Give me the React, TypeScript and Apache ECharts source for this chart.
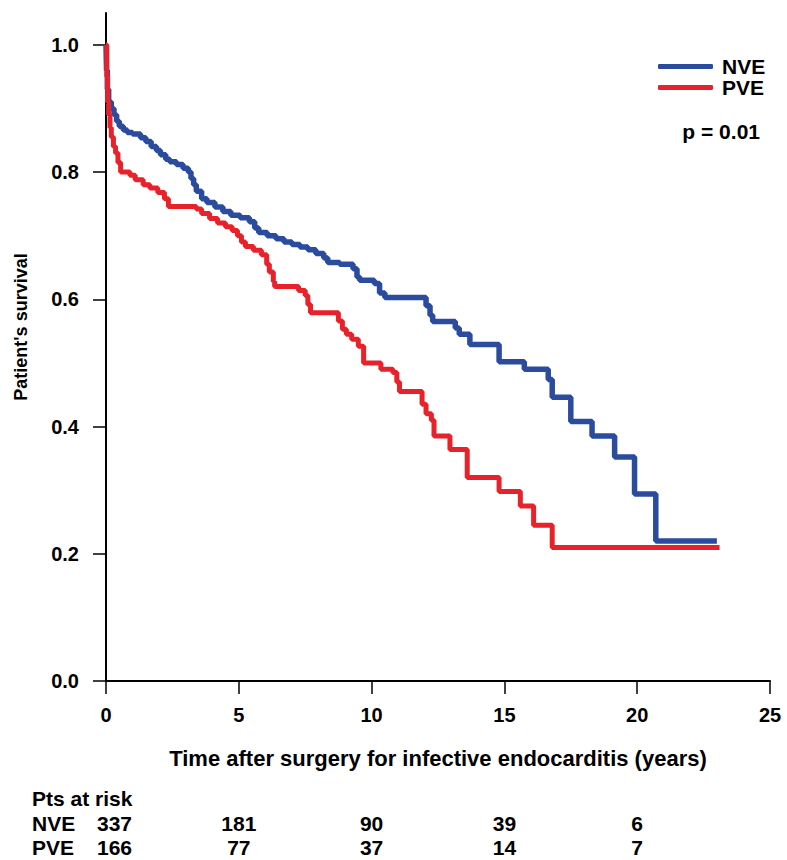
import React, { useEffect, useRef } from "react";
import * as echarts from "echarts";

const FONT = '"Liberation Sans", Arial, Helvetica, sans-serif';

// Kaplan–Meier steps: time (years) of each drop and survival right after it
const nveTime = [
  0, 0.02, 0.05, 0.1, 0.2, 0.3, 0.4, 0.5, 0.65, 0.8, 1.0, 1.3, 1.5, 1.7, 1.9,
  2.05, 2.25, 2.4, 2.65, 2.9, 3.1, 3.2, 3.3, 3.4, 3.6, 3.8, 4.1, 4.4, 4.7, 5.05,
  5.4, 5.6, 5.75, 6.07, 6.4, 6.7, 7.0, 7.3, 7.6, 7.9, 8.2, 8.35, 8.8, 9.3, 9.45,
  9.55, 10.1, 10.3, 10.5, 12.05, 12.2, 12.3, 13.15, 13.3, 13.7, 14.8, 15.75,
  16.65, 16.8, 17.5, 18.3, 19.15, 19.9, 20.7, 23.0,
];
const nveSurvival = [
  1.0, 0.96, 0.93, 0.91, 0.9, 0.89, 0.88, 0.872, 0.866, 0.862, 0.86, 0.854,
  0.848, 0.84, 0.834, 0.827, 0.82, 0.816, 0.812, 0.806, 0.8, 0.79, 0.78, 0.77,
  0.758, 0.752, 0.745, 0.738, 0.732, 0.728, 0.722, 0.712, 0.705, 0.7, 0.695,
  0.69, 0.686, 0.682, 0.678, 0.672, 0.665, 0.658, 0.655, 0.648, 0.635, 0.63,
  0.625, 0.61, 0.603, 0.59, 0.575, 0.565, 0.555, 0.545, 0.529, 0.502, 0.49,
  0.474, 0.446, 0.408, 0.385, 0.352, 0.294, 0.22, 0.22,
];

const pveTime = [
  0, 0.03, 0.06, 0.1, 0.15, 0.2, 0.28, 0.36, 0.45, 0.55, 0.9, 1.1, 1.4, 1.65,
  1.95, 2.2, 2.35, 3.4, 3.6, 3.9, 4.2, 4.5, 4.75, 4.95, 5.1, 5.25, 5.55, 5.85,
  6.05, 6.15, 6.3, 6.35, 7.25, 7.5, 7.6, 7.7, 8.75, 8.9, 9.05, 9.25, 9.5, 9.7,
  10.35, 10.8, 10.95, 11.05, 11.9, 12.05, 12.25, 12.35, 12.95, 13.6, 14.8, 15.6,
  16.1, 16.8, 23.1,
];
const pveSurvival = [
  1.0, 0.95, 0.91, 0.89, 0.87, 0.855, 0.84, 0.83, 0.815, 0.8, 0.795, 0.788,
  0.78, 0.775, 0.768, 0.758, 0.746, 0.742, 0.735, 0.727, 0.72, 0.714, 0.708,
  0.7, 0.69, 0.683, 0.677, 0.67, 0.655, 0.643, 0.628, 0.62, 0.614, 0.606, 0.592,
  0.579, 0.566, 0.553, 0.545, 0.537, 0.526, 0.5, 0.49, 0.485, 0.47, 0.455,
  0.435, 0.42, 0.41, 0.385, 0.364, 0.32, 0.298, 0.275, 0.245, 0.21, 0.21,
];

const yTickValues = [0, 0.2, 0.4, 0.6, 0.8, 1.0];

// Numbers at risk below the time axis
const riskTimes = [0, 5, 10, 15, 20];
const nveAtRisk = [337, 181, 90, 39, 6];
const pveAtRisk = [166, 77, 37, 14, 7];

const seriesNames = ["NVE", "PVE"];
const seriesColors = ["#2b4c9e", "#e8222b"];
const pValueText = "p = 0.01";
const xAxisTitle = "Time after surgery for infective endocarditis (years)";
const yAxisTitle = "Patient's survival";

const toPairs = (t: number[], s: number[]) => t.map((v, i) => [v, s[i]]);

export default function App() {
  const ref = useRef<HTMLDivElement>(null);

  useEffect(() => {
    const el = ref.current;
    if (!el) return;
    const chart = echarts.init(el, null, { renderer: "svg" });

    const labelStyle = { color: "#000", fontWeight: "bold" as const, fontFamily: FONT };

    chart.setOption({
      animation: false,
      backgroundColor: "#fff",
      grid: { left: 106, right: 17, top: 13, bottom: 179, containLabel: false },
      xAxis: {
        type: "value",
        min: 0,
        max: 25,
        interval: 5,
        axisLine: { show: true, lineStyle: { color: "#000", width: 2 } },
        axisTick: { show: true, length: 13, lineStyle: { color: "#000", width: 1.5 } },
        axisLabel: { ...labelStyle, fontSize: 20, margin: 24 },
        splitLine: { show: false },
        name: xAxisTitle,
        nameLocation: "middle",
        nameGap: 66,
        nameTextStyle: { ...labelStyle, fontSize: 22 },
      },
      yAxis: {
        type: "value",
        min: 0,
        max: 1.05,
        axisLine: { show: true, lineStyle: { color: "#000", width: 2 } },
        axisTick: {
          show: true,
          length: 13,
          customValues: yTickValues,
          lineStyle: { color: "#000", width: 1.5 },
        },
        axisLabel: {
          ...labelStyle,
          fontSize: 20,
          margin: 27,
          customValues: yTickValues,
          formatter: (v: number) => v.toFixed(1),
        },
        splitLine: { show: false },
      },
      legend: {
        orient: "vertical",
        left: 653,
        top: 51,
        itemWidth: 55,
        itemHeight: 5,
        itemGap: 0,
        icon: "roundRect",
        selectedMode: false,
        data: seriesNames,
        textStyle: { ...labelStyle, fontSize: 21, lineHeight: 21, padding: [0, 0, 0, 4] },
      },
      series: [
        {
          name: seriesNames[0],
          type: "line",
          step: "end",
          symbol: "none",
          showSymbol: false,
          data: toPairs(nveTime, nveSurvival),
          lineStyle: { color: seriesColors[0], width: 5.5 },
          itemStyle: { color: seriesColors[0] },
          z: 2,
        },
        {
          name: seriesNames[1],
          type: "line",
          step: "end",
          symbol: "none",
          showSymbol: false,
          data: toPairs(pveTime, pveSurvival),
          lineStyle: { color: seriesColors[1], width: 5 },
          itemStyle: { color: seriesColors[1] },
          z: 3,
        },
      ],
    });

    const px = (t: number) => chart.convertToPixel({ xAxisIndex: 0 }, t) as number;
    const textEl = (
      text: string,
      x: number,
      y: number,
      align: string,
      size: number,
      rotation = 0
    ) => ({
      type: "text",
      x,
      y,
      rotation,
      style: {
        text,
        fill: "#000",
        fontSize: size,
        fontWeight: "bold",
        fontFamily: FONT,
        align,
        verticalAlign: "middle",
      },
    });

    const rowY = [823, 847];
    const tableGraphics: any[] = [textEl("Pts at risk", 32, 798, "left", 21)];
    [nveAtRisk, pveAtRisk].forEach((row, r) => {
      tableGraphics.push(textEl(seriesNames[r], 32, rowY[r], "left", 21));
      row.forEach((n, i) => {
        const x = px(riskTimes[i]);
        if (i === 0) tableGraphics.push(textEl(String(n), x - 9, rowY[r], "left", 21));
        else tableGraphics.push(textEl(String(n), x, rowY[r], "center", 21));
      });
    });

    chart.setOption({
      graphic: [
        textEl(yAxisTitle, 21, 327, "center", 18, Math.PI / 2),
        textEl(pValueText, 760, 131, "right", 21),
        ...tableGraphics,
      ],
    });

    return () => chart.dispose();
  }, []);

  return (
    <div
      ref={ref}
      style={{ position: "fixed", left: 0, top: 0, width: 787, height: 860, background: "#fff" }}
    />
  );
}
